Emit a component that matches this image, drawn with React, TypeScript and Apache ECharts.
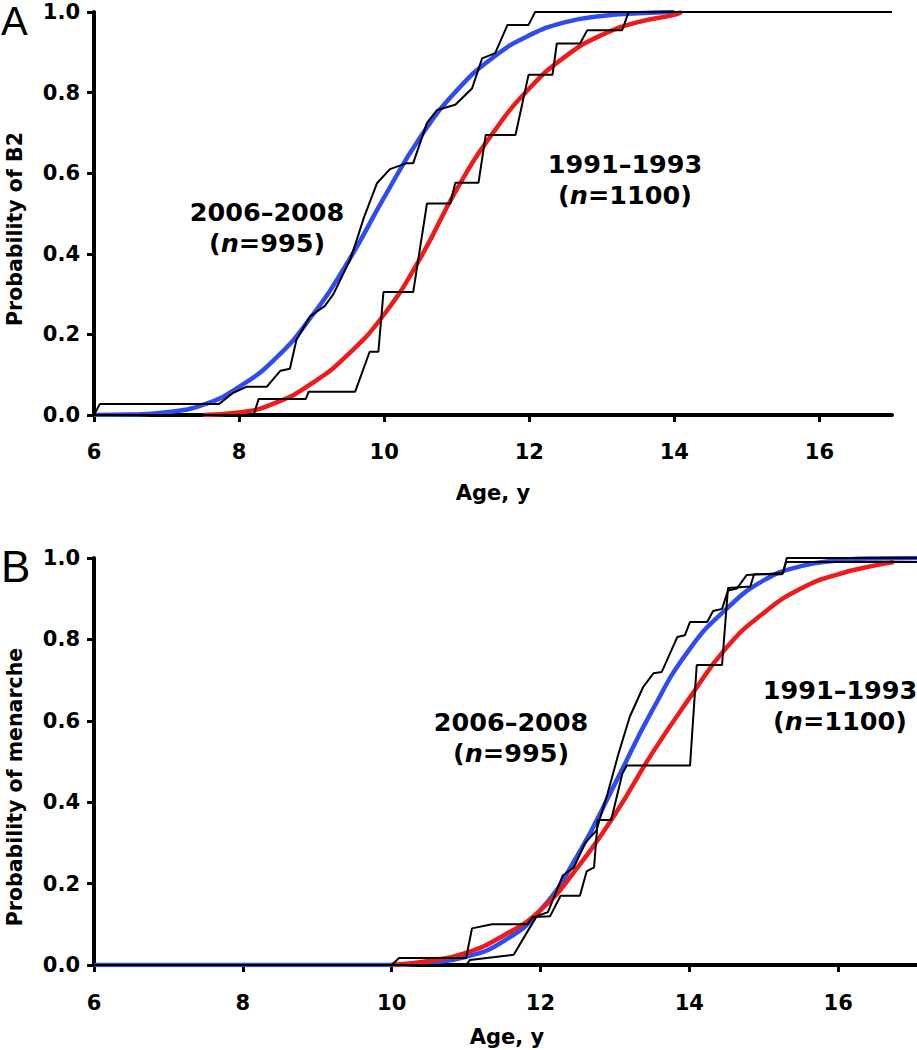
import React, { useEffect, useRef } from 'react';
import * as echarts from 'echarts';

// ---------- tick values ----------
const xTickValues = [6, 8, 10, 12, 14, 16];

// ---------- Panel A (B2) ----------
const ageA_fit2006 = [6, 6.5, 7.0, 7.5, 8.0, 8.5, 9.0, 9.5, 10.0, 10.5, 11.0, 11.5, 12.0, 12.5, 13.0, 13.5, 14.0];
const probA_fit2006 = [0, 0.001, 0.007, 0.025, 0.07, 0.14, 0.245, 0.38, 0.54, 0.69, 0.805, 0.887, 0.942, 0.975, 0.99, 0.997, 1.0];

const ageA_fit1991 = [7.5, 8.0, 8.5, 9.0, 9.5, 10.0, 10.5, 11.0, 11.5, 12.0, 12.5, 13.0, 13.5, 14.0, 14.1];
const probA_fit1991 = [0, 0.006, 0.03, 0.078, 0.15, 0.25, 0.39, 0.56, 0.70, 0.81, 0.89, 0.943, 0.975, 0.993, 1.0];

const ageA_step2006 = [6, 6.08, 7.72, 7.92, 8.1, 8.38, 8.57, 8.70, 8.79, 8.98, 9.18, 9.3, 9.53, 9.65, 9.72, 9.9, 10.08, 10.31, 10.4, 10.59, 10.73, 10.98, 11.21, 11.35, 11.53, 11.7, 11.99, 12.08, 17];
const probA_step2006 = [0, 0.027, 0.027, 0.055, 0.07, 0.07, 0.11, 0.115, 0.186, 0.245, 0.27, 0.30, 0.385, 0.45, 0.49, 0.575, 0.61, 0.625, 0.625, 0.725, 0.757, 0.77, 0.81, 0.885, 0.898, 0.968, 0.968, 1.0, 1.0];

const ageA_step1991 = [6, 8.2, 8.27, 8.92, 8.96, 9.6, 9.8, 9.92, 9.99, 10.4, 10.59, 10.91, 10.98, 11.3, 11.4, 11.81, 11.99, 12.32, 12.38, 12.7, 12.8, 13.28, 13.37, 17];
const probA_step1991 = [0, 0, 0.04, 0.04, 0.058, 0.058, 0.157, 0.157, 0.305, 0.305, 0.525, 0.525, 0.576, 0.576, 0.695, 0.695, 0.844, 0.844, 0.922, 0.922, 0.955, 0.955, 1.0, 1.0];

// ---------- Panel B (menarche) ----------
const ageB_fit2006 = [6, 10.0, 10.5, 11.0, 11.5, 12.0, 12.5, 13.0, 13.5, 14.0, 14.5, 15.0, 15.5, 16.0, 16.5, 17.06];
const probB_fit2006 = [0, 0, 0.006, 0.02, 0.058, 0.135, 0.27, 0.445, 0.625, 0.775, 0.875, 0.945, 0.98, 0.994, 0.999, 1.0];

const ageB_fit1991 = [10.0, 10.5, 11.0, 11.5, 12.0, 12.5, 13.0, 13.5, 14.0, 14.5, 15.0, 15.5, 16.0, 16.5, 16.75];
const probB_fit1991 = [0, 0.01, 0.03, 0.072, 0.135, 0.24, 0.37, 0.52, 0.655, 0.78, 0.865, 0.925, 0.96, 0.982, 0.99];

const ageB_step2006 = [6, 11.0, 11.05, 11.64, 11.85, 11.95, 12.1, 12.3, 12.45, 12.6, 12.75, 12.9, 13.05, 13.2, 13.38, 13.52, 13.63, 13.84, 13.94, 14.01, 14.24, 14.32, 14.44, 14.52, 14.64, 14.77, 15.26, 15.31, 17.06];
const probB_step2006 = [0, 0, 0.012, 0.025, 0.09, 0.12, 0.13, 0.22, 0.24, 0.3, 0.33, 0.42, 0.52, 0.61, 0.683, 0.717, 0.72, 0.806, 0.81, 0.843, 0.843, 0.87, 0.875, 0.92, 0.925, 0.958, 0.963, 1.0, 1.0];

const ageB_step1991 = [6, 10.0, 10.1, 11.0, 11.08, 11.35, 11.82, 11.9, 12.13, 12.27, 12.53, 12.62, 12.72, 12.77, 12.95, 13.1, 13.16, 14.01, 14.1, 14.44, 14.52, 14.82, 14.87, 15.25, 15.3, 17.06];
const probB_step1991 = [0, 0, 0.017, 0.017, 0.09, 0.1, 0.1, 0.118, 0.12, 0.17, 0.17, 0.23, 0.24, 0.356, 0.356, 0.47, 0.49, 0.49, 0.737, 0.737, 0.926, 0.93, 0.96, 0.96, 0.99, 0.99];

const pairs = (xs: number[], ys: number[]) => xs.map((x, i) => [x, ys[i]]);

const BLUE = '#2f4cf2';
const RED = '#f01a1a';
const FONT = '"DejaVu Sans", Verdana, sans-serif';

export default function App() {
  const ref = useRef<HTMLDivElement>(null);

  useEffect(() => {
    if (!ref.current) return;
    const chart = echarts.init(ref.current, null, { renderer: 'svg' });

    const xAxisBase = (gridIndex: number, max: number, margin: number) => ({
      type: 'value',
      gridIndex,
      min: 6,
      max,
      interval: 2,
      axisLine: { show: true, onZero: false, lineStyle: { color: '#000', width: 4 } },
      axisTick: { show: true, length: 7, lineStyle: { color: '#000', width: 3 }, customValues: xTickValues },
      axisLabel: {
        customValues: xTickValues,
        margin,
        color: '#000',
        fontFamily: FONT,
        fontWeight: 'bold',
        fontSize: 21,
      },
      splitLine: { show: false },
    });

    const yAxisBase = (gridIndex: number) => ({
      type: 'value',
      gridIndex,
      min: 0,
      max: 1,
      interval: 0.2,
      axisLine: { show: true, lineStyle: { color: '#000', width: 4 } },
      axisTick: { show: true, length: 7, lineStyle: { color: '#000', width: 3 } },
      axisLabel: {
        margin: 14,
        color: '#000',
        fontFamily: FONT,
        fontWeight: 'bold',
        fontSize: 21,
        formatter: (v: number) => v.toFixed(1),
      },
      splitLine: { show: false },
    });

    const fitSeries = (name: string, xi: number, xs: number[], ys: number[], color: string) => ({
      name,
      type: 'line',
      xAxisIndex: xi,
      yAxisIndex: xi,
      data: pairs(xs, ys),
      showSymbol: false,
      smooth: 0.5,
      lineStyle: { color, width: 4.5 },
      z: 2,
      silent: true,
    });

    const stepSeries = (name: string, xi: number, xs: number[], ys: number[]) => ({
      name,
      type: 'line',
      xAxisIndex: xi,
      yAxisIndex: xi,
      data: pairs(xs, ys),
      showSymbol: false,
      lineStyle: { color: '#000', width: 2 },
      z: 3,
      silent: true,
    });

    const boldFont = (size: number) => `bold ${size}px ${FONT}`;

    const label = (x: number, y: number, years: string, n: string) => [
      {
        type: 'text',
        x,
        y,
        style: { text: years, font: boldFont(25.5), fill: '#000', align: 'center', verticalAlign: 'middle' },
      },
      {
        type: 'text',
        x,
        y: y + 31,
        style: {
          text: `{r|(}{i|n}{r|=${n})}`,
          fill: '#000',
          align: 'center',
          verticalAlign: 'middle',
          rich: {
            r: { fontFamily: FONT, fontWeight: 'bold', fontSize: 25.5, fill: '#000' },
            i: { fontFamily: FONT, fontWeight: 'bold', fontStyle: 'italic', fontSize: 25.5, fill: '#000' },
          },
        },
      },
    ];

    chart.setOption({
      animation: false,
      backgroundColor: '#fff',
      grid: [
        { left: 94, top: 12, width: 798, height: 403 },
        { left: 94, top: 558, width: 823, height: 407 },
      ],
      xAxis: [xAxisBase(0, 17, 26), xAxisBase(1, 17.06, 27)],
      yAxis: [yAxisBase(0), yAxisBase(1)],
      series: [
        fitSeries('2006–2008 fit (B2)', 0, ageA_fit2006, probA_fit2006, BLUE),
        fitSeries('1991–1993 fit (B2)', 0, ageA_fit1991, probA_fit1991, RED),
        stepSeries('2006–2008 observed (B2)', 0, ageA_step2006, probA_step2006),
        stepSeries('1991–1993 observed (B2)', 0, ageA_step1991, probA_step1991),
        fitSeries('2006–2008 fit (menarche)', 1, ageB_fit2006, probB_fit2006, BLUE),
        fitSeries('1991–1993 fit (menarche)', 1, ageB_fit1991, probB_fit1991, RED),
        stepSeries('2006–2008 observed (menarche)', 1, ageB_step2006, probB_step2006),
        stepSeries('1991–1993 observed (menarche)', 1, ageB_step1991, probB_step1991),
      ],
      graphic: [
        { type: 'text', x: 1, y: 1, style: { text: 'A', font: `40px "Liberation Sans", Arial, sans-serif`, fill: '#000', verticalAlign: 'top' } },
        { type: 'text', x: 1, y: 566, style: { text: 'B', font: `44px "Liberation Sans", Arial, sans-serif`, fill: '#000', verticalAlign: 'middle' } },
        { type: 'text', x: 15, y: 229, rotation: Math.PI / 2, style: { text: 'Probability of B2', font: boldFont(20.5), fill: '#000', align: 'center', verticalAlign: 'middle' } },
        { type: 'text', x: 15, y: 787, rotation: Math.PI / 2, style: { text: 'Probability of menarche', font: boldFont(20.5), fill: '#000', align: 'center', verticalAlign: 'middle' } },
        { type: 'text', x: 493, y: 493, style: { text: 'Age, y', font: boldFont(21), fill: '#000', align: 'center', verticalAlign: 'middle' } },
        { type: 'text', x: 507, y: 1037, style: { text: 'Age, y', font: boldFont(21), fill: '#000', align: 'center', verticalAlign: 'middle' } },
        ...label(267, 212, '2006–2008', '995'),
        ...label(625, 164, '1991–1993', '1100'),
        ...label(511, 722, '2006–2008', '995'),
        ...label(840, 690, '1991–1993', '1100'),
      ],
    });

    return () => chart.dispose();
  }, []);

  return (
    <div
      ref={ref}
      style={{ position: 'fixed', left: 0, top: 0, width: 917, height: 1050, background: '#fff' }}
    />
  );
}
